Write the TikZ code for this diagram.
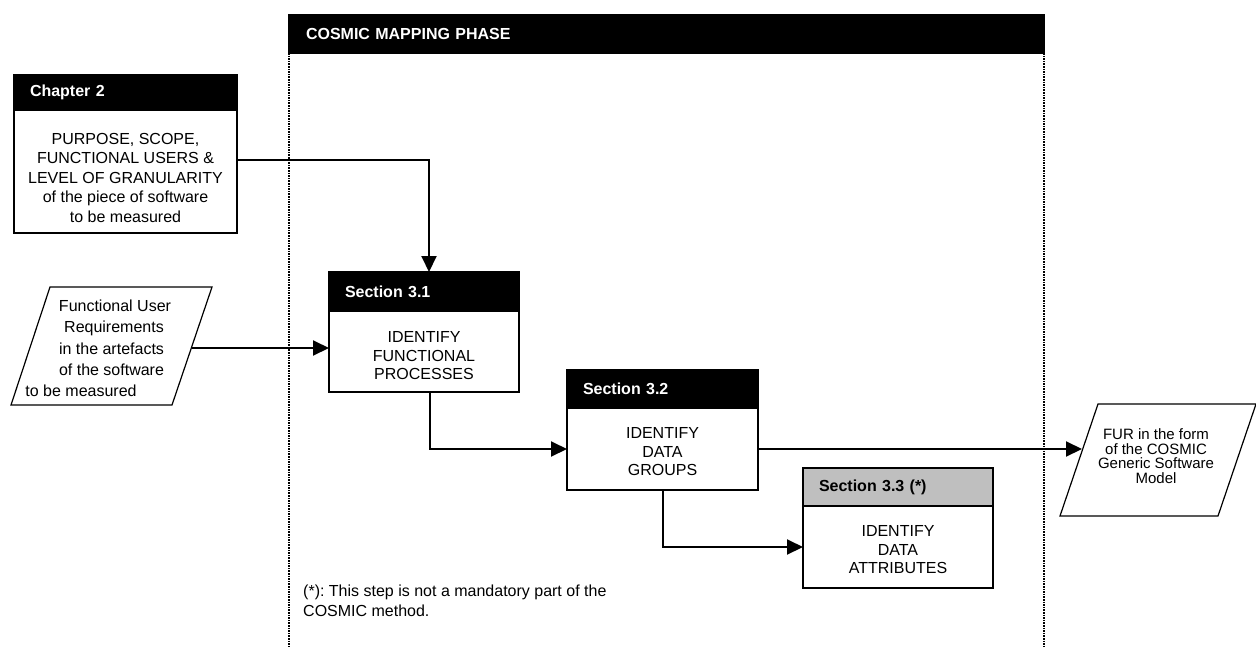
\documentclass[tikz,border=0pt]{standalone}
\usepackage{fontspec}
\setmainfont{Liberation Sans}
\usetikzlibrary{positioning,arrows.meta}

\begin{document}
\frenchspacing
\begin{tikzpicture}[x=1pt, y=-1pt, >={Triangle[length=16pt,width=15pt]},
  hdr/.style={draw, fill=black, text=white, anchor=north west, align=left, inner xsep=16pt, inner ysep=0pt, outer sep=0pt, line width=1.5pt, font=\fontsize{16}{19}\selectfont\bfseries},
  body/.style={draw, fill=white, align=center, inner sep=0pt, outer sep=0pt, line width=1.5pt, font=\fontsize{16}{18.5}\selectfont},
  para/.style={draw, line width=1.2pt},
  link/.style={->, line width=2pt},
  phaseline/.style={line width=2.2pt, dash pattern=on 1.6pt off 1pt}]

  \useasboundingbox (0,0) rectangle (1256,648);
  \fill[white] (0,0) rectangle (1256,648);

  % Mapping phase frame
  \node[hdr, text width=721pt, minimum height=38pt, inner xsep=17pt] (phase) at (289,15) {COSMIC MAPPING PHASE};
  \coordinate (pagebot) at (0,648);
  \draw[phaseline] (phase.south west) -- (phase.south west |- pagebot);
  \draw[phaseline] (phase.south east) -- (phase.south east |- pagebot);

  % Define nodes
  \node[hdr, text width=191pt, minimum height=35pt] (hd2) at (14,75) {Chapter 2};
  \node[body, font=\fontsize{16}{19.5}\selectfont, minimum width=223pt, minimum height=123pt, below=0pt of hd2] (ch2) {\rule{0pt}{24pt}PURPOSE, SCOPE,\\FUNCTIONAL USERS \&\\LEVEL OF GRANULARITY\\of the piece of software\\to be measured};

  \node[hdr, text width=158pt, minimum height=39pt] (hd31) at (329,272) {Section 3.1};
  \node[body, minimum width=190pt, minimum height=81pt, below=0pt of hd31] (s31) {\rule{0pt}{20pt}IDENTIFY\\FUNCTIONAL\\PROCESSES};

  \node[hdr, text width=159pt, minimum height=38pt] (hd32) at (567,370) {Section 3.2};
  \node[body, minimum width=191pt, minimum height=82pt, below=0pt of hd32] (s32) {\rule{0pt}{17pt}IDENTIFY\\DATA\\GROUPS};

  \node[hdr, fill=black!25, text=black, text width=158pt, minimum height=38pt] (hd33) at (803,468) {Section 3.3 (*)};
  \node[body, minimum width=190pt, minimum height=82pt, below=0pt of hd33] (s33) {\rule{0pt}{17pt}IDENTIFY\\DATA\\ATTRIBUTES};

  % Input and output
  \draw[para] (11,405) -- (50,287) -- (212,287) -- (172,405) -- cycle;
  \node[align=center, inner sep=0pt, font=\fontsize{16}{21.3}\selectfont] (req) at (111.5,348.5) {\hspace*{7pt}Functional User\\\hspace*{5pt}Requirements\\in the artefacts\hspace*{11pt}\\of the software\hspace*{41pt}\\to be measured\hspace*{61pt}};
  \coordinate (reqout) at (192,348);

  \draw[para] (1060,516) -- (1098,404) -- (1256,404) -- (1218,516) -- cycle;
  \node[align=center, inner sep=0pt, font=\fontsize{15}{14.5}\selectfont] (fur) at (1156,456) {FUR in the form\\of the COSMIC\\Generic Software\\Model};
  \coordinate (furin) at (1082,449);

  \node[anchor=north west, align=left, inner sep=0pt, font=\fontsize{16}{20}\selectfont] (note) at (303,585) {(*): This step is not a mandatory part of the\\COSMIC method.};

  % Define edges
  \draw[link] ([yshift=11.5pt]ch2.east) -| ([xshift=5pt]hd31.north);
  \draw[link] (reqout) -- (reqout -| hd31.west);
  \draw[link] ([xshift=6pt]s31.south) |- (s32.west);
  \draw[link] (s32.east) -- (s32.east -| furin);
  \draw[link] (s32.south) |- (s33.west);
\end{tikzpicture}
\end{document}
